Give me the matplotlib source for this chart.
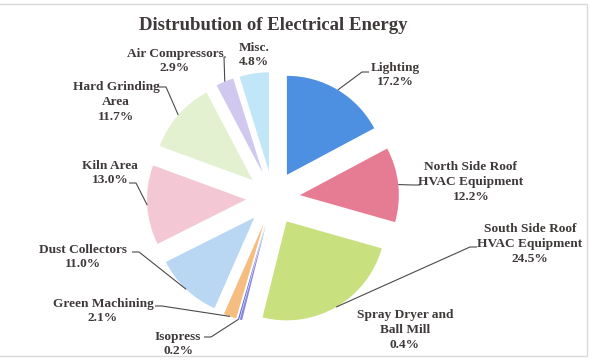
import matplotlib
matplotlib.use("Agg")
import matplotlib.pyplot as plt
import matplotlib.patches as mpatches
import numpy as np

# ---- data ----
categories = ["Lighting", "North Side Roof\nHVAC Equipment", "South Side Roof\nHVAC Equipment",
              "Spray Dryer and\nBall Mill", "Isopress", "Green Machining", "Dust Collectors",
              "Kiln Area", "Hard Grinding\nArea", "Air Compressors", "Misc."]
values = [17.2, 12.2, 24.5, 0.4, 0.2, 2.1, 11.0, 13.0, 11.7, 2.9, 4.8]
colors = ["#4d8fe1", "#e67c94", "#c9e07e", "#8a86e4", "#5a6fd0", "#f6bd80",
          "#b9d6f2", "#f4c7d4", "#e4f1d0", "#d0c8ee", "#c0e6f8"]

# ---- layout (pixel coordinates, y measured from top) ----
W, H = 592, 360
center_px = (273, 198)
radius = 99
explode_px = 27

# label centre, hook point (where leader meets label) or None
label_layout = [
    ((395, 75), (369, 72)),
    ((471, 182), (420, 185)),
    ((530, 244), (477, 247)),
    ((405, 330), None),
    ((178, 344), (204, 337)),
    ((103, 311), (155, 306)),
    ((83, 257), (132, 252)),
    ((110, 173), (129, 183)),
    ((116, 102), (159, 87)),
    ((175, 61), (226, 57)),
    ((254, 55), None),
]

txt_color = "#3f3939"
font = ["Liberation Serif", "DejaVu Serif"]

fig = plt.figure(figsize=(W / 100, H / 100), dpi=100)
ax = fig.add_axes([0, 0, 1, 1])

def Y(y):
    return H - y

wedges, _ = ax.pie(values, colors=colors, startangle=90, counterclock=False,
                   radius=radius, center=(center_px[0], Y(center_px[1])),
                   explode=[explode_px] * len(values),
                   wedgeprops=dict(linewidth=0), frame=True)
ax.set_xlim(0, W)
ax.set_ylim(0, H)
ax.set_aspect("equal")
ax.axis("off")

ax.text(273, Y(25), "Distrubution of Electrical Energy", ha="center", va="center",
        fontsize=13.5, fontweight="bold", family=font, color=txt_color)

for w, cat, val, (tpos, hook) in zip(wedges, categories, values, label_layout):
    ax.text(tpos[0], Y(tpos[1]), f"{cat}\n{val:.1f}%", ha="center", va="center",
            fontsize=9.6, fontweight="bold", family=font, color=txt_color,
            linespacing=1.3)
    if hook is not None:
        tm = np.deg2rad(0.5 * (w.theta1 + w.theta2))
        ax_x = w.center[0] + w.r * np.cos(tm)
        ax_y = w.center[1] + w.r * np.sin(tm)
        hx, hy = hook[0], Y(hook[1])
        dx = -7 if ax_x < hx else 7
        if abs(ax_x - hx) < 5:
            dx = 2 if ax_x > hx else -2
        ex, ey = hx + dx, hy
        ax.plot([ax_x, ex, hx], [ax_y, ey, hy], color="#4a4a4a", lw=0.8,
                solid_capstyle="butt")

# faint frame of the original screenshot
ax.add_patch(mpatches.Rectangle((-2, Y(356)), 589, 352, fill=False,
                                edgecolor="#dadada", lw=1.0))

fig.savefig("out.png", dpi=100, facecolor="white")
